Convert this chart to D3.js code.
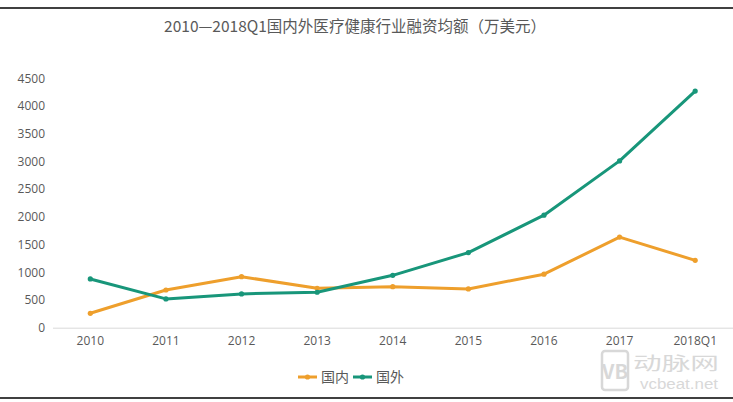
<!DOCTYPE html>
<html>
<head>
<meta charset="utf-8">
<script src="https://cdn.jsdelivr.net/npm/d3@7/dist/d3.min.js"></script>
<style>
  html, body { margin: 0; padding: 0; background: #fff; }
  svg { display: block; }
</style>
</head>
<body>
<svg id="chart" width="733" height="402"></svg>
<script>
const categories = ["2010", "2011", "2012", "2013", "2014", "2015", "2016", "2017", "2018Q1"];
const domestic = [260, 680, 920, 710, 740, 700, 965, 1635, 1215];
const foreign = [880, 520, 610, 640, 945, 1355, 2030, 3010, 4270];
const yTicks = [0, 500, 1000, 1500, 2000, 2500, 3000, 3500, 4000, 4500];
const seriesNames = ["国内", "国外"];
const titleText = "2010—2018Q1国内外医疗健康行业融资均额（万美元）";

const colors = ["#EE9F2C", "#18967A"];
const font = "'Microsoft YaHei', 'Noto Sans CJK SC', 'Noto Sans', sans-serif";
const numFont = "'Open Sans', 'Noto Sans', sans-serif";

const svg = d3.select("#chart");
const W = 733, H = 402;

// frame lines
svg.append("line").attr("x1", 0).attr("x2", W).attr("y1", 8).attr("y2", 8)
  .attr("stroke", "#000").attr("stroke-width", 1.3);
svg.append("line").attr("x1", 0).attr("x2", W).attr("y1", 398).attr("y2", 398)
  .attr("stroke", "#000").attr("stroke-width", 1.3);

// title
svg.append("text").attr("x", 355).attr("y", 32).attr("text-anchor", "middle")
  .attr("font-family", font).attr("font-size", 15.5).attr("fill", "#595959")
  .text(titleText);

const x = d3.scaleBand().domain(categories).range([52.5, 733]);
const y = d3.scaleLinear().domain([0, 4500]).range([327.7, 78.3]);

// x axis
const xAxis = d3.axisBottom(x).tickSize(0).tickPadding(9);
const gx = svg.append("g").attr("transform", `translate(0,${y(0)})`).call(xAxis);
gx.select(".domain").attr("stroke", "#D9D9D9").attr("stroke-width", 1);
gx.selectAll("text").attr("font-family", numFont).attr("font-size", 12).attr("fill", "#595959");

// y axis labels
const yAxis = d3.axisLeft(y).tickValues(yTicks).tickSize(0).tickPadding(0).tickFormat(d3.format("d"));
const gy = svg.append("g").attr("transform", `translate(45,0)`).call(yAxis);
gy.select(".domain").remove();
gy.selectAll("text").attr("font-family", numFont).attr("font-size", 12).attr("fill", "#595959");

const line = d3.line().x((d, i) => x(categories[i]) + x.bandwidth() / 2).y(d => y(d));

[domestic, foreign].forEach((data, si) => {
  svg.append("path").datum(data).attr("d", line).attr("fill", "none")
    .attr("stroke", colors[si]).attr("stroke-width", 3).attr("stroke-linejoin", "round")
    .attr("stroke-linecap", "round");
  svg.selectAll(null).data(data).enter().append("circle")
    .attr("cx", (d, i) => x(categories[i]) + x.bandwidth() / 2)
    .attr("cy", d => y(d)).attr("r", 2.6).attr("fill", colors[si]);
});

// legend
const legendItems = [{ x: 298 }, { x: 353 }];
legendItems.forEach((it, i) => {
  const g = svg.append("g").attr("transform", `translate(${it.x},377)`);
  g.append("line").attr("x1", 0).attr("x2", 19).attr("y1", 0).attr("y2", 0)
    .attr("stroke", colors[i]).attr("stroke-width", 3);
  g.append("circle").attr("cx", 9.5).attr("cy", 0).attr("r", 2.6).attr("fill", colors[i]);
  g.append("text").attr("x", 23).attr("y", 5).attr("font-family", font)
    .attr("font-size", 14).attr("fill", "#595959").text(seriesNames[i]);
});

// watermark
const wm = svg.append("g").attr("fill", "#D8D8D8");
wm.append("rect").attr("x", 602).attr("y", 351).attr("width", 26).attr("height", 39)
  .attr("rx", 3).attr("fill", "none").attr("stroke", "#D8D8D8").attr("stroke-width", 2.5);
wm.append("text").attr("x", 615).attr("y", 379).attr("text-anchor", "middle")
  .attr("font-family", font).attr("font-size", 20).attr("font-weight", "bold").text("VB");
wm.append("text").attr("x", 633).attr("y", 370).attr("font-family", font)
  .attr("font-size", 18).attr("textLength", 86).attr("lengthAdjust", "spacingAndGlyphs").text("动脉网");
wm.append("text").attr("x", 640).attr("y", 389).attr("font-family", "Arial, 'Liberation Sans', sans-serif")
  .attr("font-size", 14).attr("textLength", 78).attr("lengthAdjust", "spacingAndGlyphs").text("vcbeat.net");
</script>
</body>
</html>
